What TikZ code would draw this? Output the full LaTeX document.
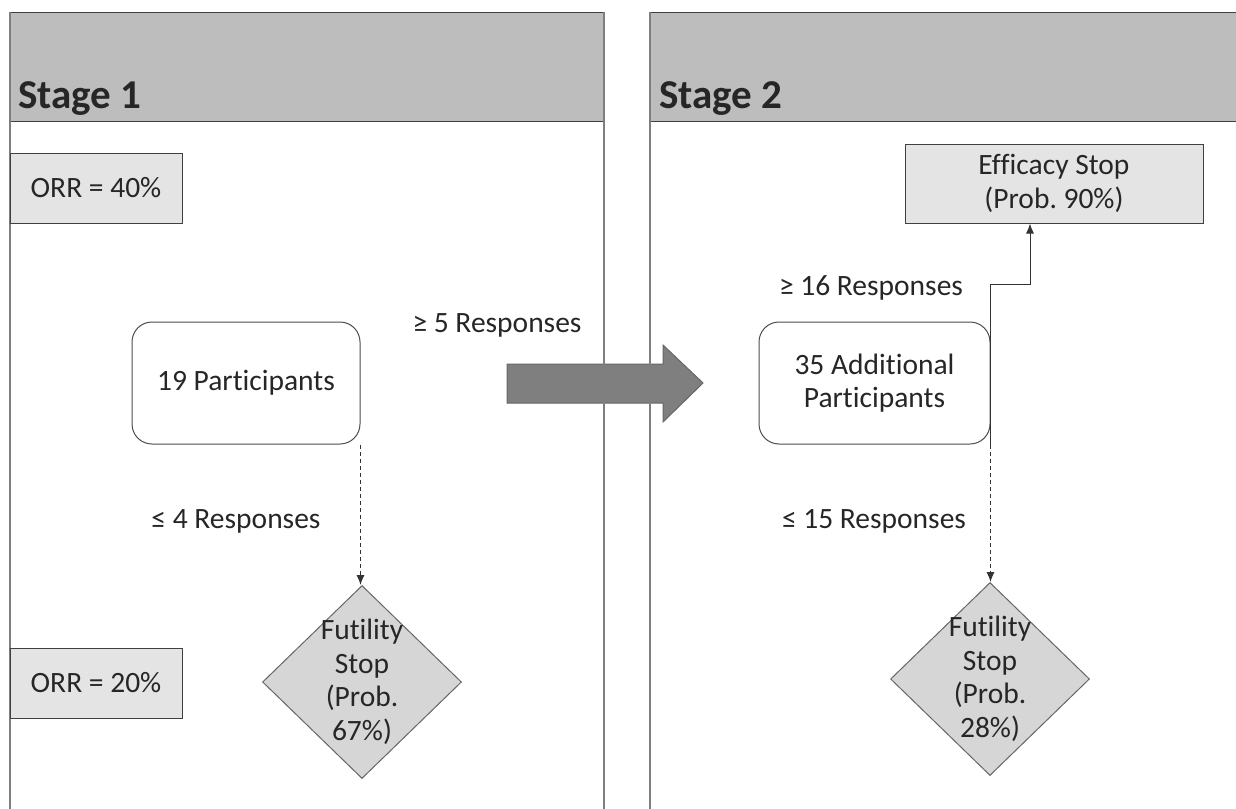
\documentclass[tikz,border=0pt]{standalone}
\usepackage{fontspec}
\setmainfont{Carlito}[Ligatures=NoCommon]
\usepackage{tikz}
\usetikzlibrary{shapes.geometric, arrows, arrows.meta, positioning, calc}
\frenchspacing
\definecolor{headgray}{HTML}{BDBDBD}
\definecolor{rategray}{HTML}{E4E4E4}
\definecolor{stopgray}{HTML}{D6D6D6}
\definecolor{bodygray}{HTML}{7F7F7F}
\definecolor{ink}{HTML}{262626}
\newcommand{\bodyfont}{\fontsize{29.5}{33.5}\selectfont}
\newcommand{\titlefont}{\fontsize{41}{46}\selectfont\bfseries}
\tikzstyle{header} = [rectangle, draw=black!75, fill=headgray, line width=1pt]
\tikzstyle{title} = [font=\titlefont, text=ink, inner sep=0pt]
\tikzstyle{lane} = [draw=bodygray, line width=2pt]
\tikzstyle{rate} = [rectangle, draw=black!75, fill=rategray, line width=1pt, align=center, minimum width=172pt, minimum height=70pt]
\tikzstyle{block} = [rectangle, draw=black!70, fill=white, rounded corners=20pt, line width=1pt, align=center, minimum height=122pt]
\tikzstyle{stopbox} = [diamond, draw=black!60, fill=stopgray, line width=1pt, minimum width=199pt, minimum height=193pt, inner sep=0pt]
\tikzstyle{note} = [text=ink, inner sep=0pt]
\tikzstyle{line} = [draw=black!80, line width=1pt, -{Latex[length=10pt, width=8pt]}]
\tikzstyle{advance} = [fill=bodygray, draw=black!60, line width=1pt]

\begin{document}
\begin{tikzpicture}[x=1pt, y=-1pt, font=\bodyfont, text=ink]
  \useasboundingbox (0,0) rectangle (1236,808);
  \clip (0,0) rectangle (1236,808);

  % stage headers
  \node (head1) [header, anchor=north west, minimum width=594pt, minimum height=109pt] at (10,12) {};
  \node (head2) [header, anchor=north west, minimum width=600pt, minimum height=109pt] at (650,12) {};
  \node (title1) [title, anchor=base west] at (18,108) {Stage 1};
  \node (title2) [title, anchor=base west] at (659,108) {Stage 2};

  % big arrow into stage 2
  \filldraw[advance] (507,364) -- (663,364) -- (663,345) -- (703,383) -- (663,422) -- (663,403) -- (507,403) -- cycle;

  % lane borders
  \draw[lane] (10,830) -- (10,12);
  \draw[lane] (604,830) -- (604,12);
  \draw[lane] (650,830) -- (650,12);

  \node (orr40) [rate] at (96,188) {ORR = 40\%};
  \node (orr20) [rate] at (96,683) {ORR = 20\%};
  \node (part1) [block, minimum width=228pt] at (246,383) {19 Participants};
  \node (part2) [block, minimum width=231pt] at (874.5,383) {35 Additional\\Participants};
  \node (eff) [rate, minimum width=298pt, minimum height=79pt] at (1054,183.5) {Efficacy Stop\\(Prob. 90\%)};
  \node (fut1) [stopbox, label={[align=center, text=ink]center:{Futility\\Stop\\(Prob.\\67\%)}}] at (362,682) {};
  \node (fut2) [stopbox, label={[align=center, text=ink]center:{Futility\\Stop\\(Prob.\\28\%)}}] at (990,679) {};

  \node (go1) [note] at (497,325) {≥ 5 Responses};
  \node (no1) [note] at (236,521) {≤ 4 Responses};
  \node (go2) [note] at (871,288) {≥ 16 Responses};
  \node (no2) [note] at (874,521) {≤ 15 Responses};

  \coordinate (bend) at (1030,284);
  \draw[line] (part2.south east) |- (bend) -- (bend |- eff.south);
  \draw[line, dash pattern=on 4pt off 3pt] (part1.south east) -- (part1.south east |- fut1.north);
  \draw[line, dash pattern=on 4pt off 3pt] (part2.south east) -- (part2.south east |- fut2.north);
\end{tikzpicture}
\end{document}
